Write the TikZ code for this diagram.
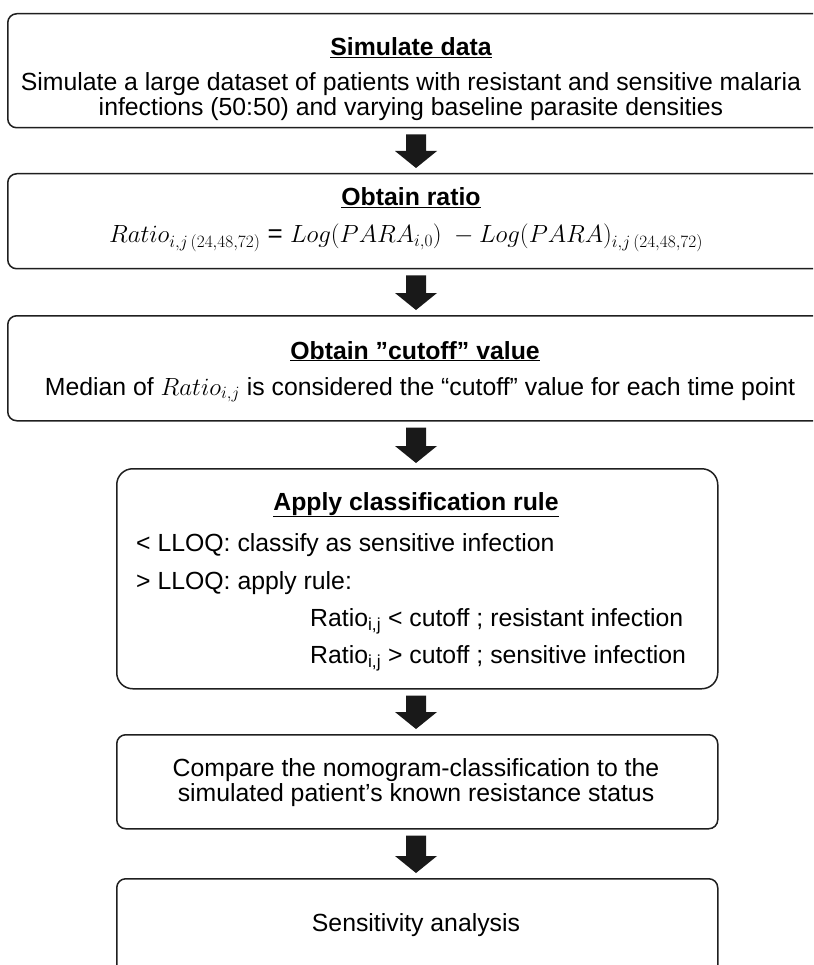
\documentclass[tikz,border=0pt]{standalone}
\usepackage{fontspec}
\setmainfont{Liberation Sans}
\usetikzlibrary{calc}
\begin{document}
\begin{tikzpicture}[x=1pt,y=-1pt,
  box/.style={draw=black!88, line width=1.5pt, rounded corners=9pt, anchor=north west, inner sep=0pt},
  txt/.style={font=\fontsize{24.8}{27}\selectfont, inner sep=0pt, anchor=base},
  ltxt/.style={txt, anchor=base west},
  ttl/.style={txt, font=\fontsize{24.8}{27}\selectfont\bfseries},
  arrowfill/.style={fill=black!90}]
\clip (0,0) rectangle (813,965);
\fill[white] (0,0) rectangle (813,965);
\coordinate (col) at (416,0);
% boxes
\node[box, minimum width=840pt, minimum height=114pt] (b1) at (7,13) {};
\node[box, minimum width=840pt, minimum height=95pt] (b2) at (7,173) {};
\node[box, minimum width=840pt, minimum height=105pt] (b3) at (7,315) {};
\node[box, minimum width=601pt, minimum height=220pt, rounded corners=16pt] (b4) at (116,468) {};
\node[box, minimum width=601pt, minimum height=94pt] (b5) at (116,734) {};
\node[box, minimum width=601pt, minimum height=110pt] (b6) at (116,878) {};
% texts
\node[ttl] (t1) at (411,56) {\underline{Simulate data}};
\node[txt] (t1a) at (411,91) {Simulate a large dataset of patients with resistant and sensitive malaria};
\node[txt] (t1b) at (411,116) {infections (50:50) and varying baseline parasite densities};
\node[ttl] (t2) at (411,206) {\underline{Obtain ratio}};
\node[txt, font=\fontsize{26}{28}\selectfont] (t2a) at (406,243) {$Ratio_{i,j\,(24,48,72)}$ = $Log(PARA_{i,0})\;-Log(PARA)_{i,j\,(24,48,72)}$};
\node[ttl] (t3) at (415,359) {\underline{Obtain ”cutoff” value}};
\node[txt] (t3a) at (420,395) {Median of $Ratio_{i,j}$ is considered the “cutoff” value for each time point};
\node[ttl] (t4) at (416,510) {\underline{Apply classification rule}};
\node[ltxt] (t4a) at (136,551) {< LLOQ: classify as sensitive infection};
\node[ltxt] (t4b) at (136,589) {> LLOQ: apply rule:};
\node[ltxt] (t4c) at (310,626) {Ratio\textsubscript{i,j} < cutoff ; resistant infection};
\node[ltxt] (t4d) at (310,663) {Ratio\textsubscript{i,j} > cutoff ; sensitive infection};
\node[txt] (t5a) at (416,776) {Compare the nomogram-classification to the};
\node[txt] (t5b) at (416,801) {simulated patient’s known resistance status};
\node[txt] (t6) at (416,931) {Sensitivity analysis};
% arrows
\newcommand\blockarrow[2]{%
  \fill[arrowfill] let \p1=(#1.south), \p2=(#2.north), \p3=(col) in
    (\x3-10pt,\y1-6pt) -- (\x3+10pt,\y1-6pt) -- (\x3+10pt,\y2+22pt) -- (\x3+21pt,\y2+22pt)
    -- (\x3,\y2+5pt) -- (\x3-21pt,\y2+22pt) -- (\x3-10pt,\y2+22pt) -- cycle;}
\blockarrow{b1}{b2}
\blockarrow{b2}{b3}
\blockarrow{b3}{b4}
\blockarrow{b4}{b5}
\blockarrow{b5}{b6}
\end{tikzpicture}
\end{document}
